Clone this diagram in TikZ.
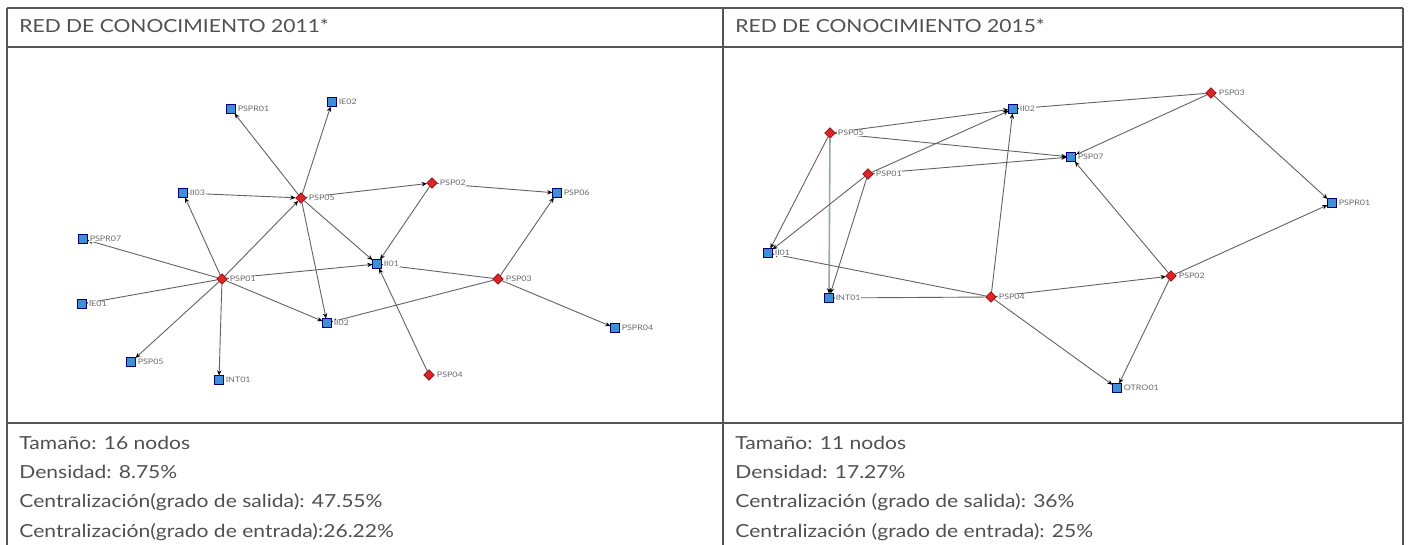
\documentclass[tikz,border=0pt]{standalone}
\usepackage{fontspec}
\setmainfont{Lato}[FakeStretch=1.17]
\usepackage{tikz}
\usepackage{xcolor}
\usetikzlibrary{arrows.meta,shapes.geometric,backgrounds}

\definecolor{rulegray}{HTML}{555555}
\definecolor{txtgray}{HTML}{505050}
\definecolor{sqblue}{HTML}{3F8FD6}
\definecolor{dmred}{HTML}{D8262A}
\definecolor{edgegray}{HTML}{626262}
\definecolor{palegray}{HTML}{93A8A8}

\begin{document}
\begin{tikzpicture}[x=0.5pt,y=-0.5pt,label distance=0.6pt]
        \tikzstyle{org}=[draw=blue!45!black,fill=sqblue,rectangle,minimum size=4.2pt,inner sep=0pt,line width=0.35pt]
        \tikzstyle{psp}=[draw=red!55!black,fill=dmred,diamond,minimum size=5.4pt,inner sep=0pt,line width=0.3pt]
        \tikzstyle{lbl}=[font=\fontsize{3.8}{4}\selectfont,text=gray!85!black,fill=white,inner sep=0.3pt]
        \tikzstyle{tie}=[draw=edgegray,line width=0.45pt,-{Stealth[length=2.6pt,width=2.2pt,black]}]
        \tikzstyle{tiepale}=[tie,draw=palegray,line width=0.8pt]
        \tikzstyle{txt}=[anchor=base west,inner sep=0pt,text=txtgray,font=\fontsize{9}{10}\selectfont]
        \useasboundingbox (0,0) rectangle (1408,545);

        % table
        \draw[rulegray,line width=1pt] (7,8) -- (1403,8);
        \draw[rulegray,line width=0.7pt] (7,47) -- (1403,47) (7,423) -- (1403,423);
        \draw[rulegray,line width=0.7pt] (7,8) -- (7,545) (723,8) -- (723,545) (1403,8) -- (1403,545);

        \node[txt] (h1) at (19,32.5) {RED DE CONOCIMIENTO 2011*};
        \node[txt] (h2) at (735,32.5) {RED DE CONOCIMIENTO 2015*};

        \node[txt] (s1) at (19,449) {Tamaño: 16 nodos};
        \node[txt] (d1) at (19,478) {Densidad: 8.75\%};
        \node[txt] (o1) at (19,507.5) {Centralización(grado de salida): 47.55\%};
        \node[txt] (i1) at (19,537) {Centralización(grado de entrada):26.22\%};

        \node[txt] (s2) at (735,449) {Tamaño: 11 nodos};
        \node[txt] (d2) at (735,478) {Densidad: 17.27\%};
        \node[txt] (o2) at (735,507.5) {Centralización (grado de salida): 36\%};
        \node[txt] (i2) at (735,537) {Centralización (grado de entrada): 25\%};

        % red 2011
        \node[psp,label={[lbl]right:PSP01}] (1) at (222,279) {};
        \node[psp,label={[lbl]right:PSP05}] (2) at (301,198) {};
        \node[psp,label={[lbl]right:PSP02}] (3) at (432,183) {};
        \node[psp,label={[lbl]right:PSP03}] (4) at (498,279) {};
        \node[psp,label={[lbl]right:PSP04}] (5) at (429,375) {};
        \node[org,label={[lbl]right:PSPR01}] (6) at (231,109) {};
        \node[org,label={[lbl]right:IE02}] (7) at (332,102) {};
        \node[org,label={[lbl]right:II03}] (8) at (183,193) {};
        \node[org,label={[lbl]right:PSPR07}] (9) at (83,239) {};
        \node[org,label={[lbl]right:IE01}] (10) at (82,304) {};
        \node[org,label={[lbl]right:PSP05}] (11) at (131,362) {};
        \node[org,label={[lbl]right:INT01}] (12) at (219,380) {};
        \node[org,label={[lbl]right:II01}] (13) at (377,264) {};
        \node[org,label={[lbl]right:II02}] (14) at (327,323) {};
        \node[org,label={[lbl]right:PSP06}] (15) at (557,193) {};
        \node[org,label={[lbl]right:PSPR04}] (16) at (615,328) {};

        % red 2015
        \node[psp,label={[lbl]right:PSP05}] (21) at (830,133) {};
        \node[psp,label={[lbl]right:PSP01}] (22) at (868,174) {};
        \node[psp,label={[lbl]right:PSP04}] (23) at (991,297) {};
        \node[psp,label={[lbl]right:PSP03}] (24) at (1211,93) {};
        \node[psp,label={[lbl]right:PSP02}] (25) at (1171,276) {};
        \node[org,label={[lbl]right:II02}] (26) at (1013,109) {};
        \node[org,label={[lbl]right:PSP07}] (27) at (1071,157) {};
        \node[org,label={[lbl]right:II01}] (28) at (768,253) {};
        \node[org,label={[lbl]right:INT01}] (29) at (829,298) {};
        \node[org,label={[lbl]right:PSPR01}] (30) at (1332,203) {};
        \node[org,label={[lbl]right:OTRO01}] (31) at (1117,388) {};

        \begin{scope}[on background layer]
        \draw[tie] (1) to (8);
        \draw[tie] (1) to (2);
        \draw[tie] (1) to (9);
        \draw[tie] (1) to (10);
        \draw[tie] (1) to (11);
        \draw[tie] (1) to (12);
        \draw[tie] (1) to (13);
        \draw[tie] (1) to (14);
        \draw[tie] (2) to (6);
        \draw[tie] (2) to (7);
        \draw[tie] (8) to (2);
        \draw[tie] (2) to (13);
        \draw[tie] (2) to (14);
        \draw[tie] (2) to (3);
        \draw[tie] (3) to (13);
        \draw[tie] (3) to (15);
        \draw[tie] (4) to (15);
        \draw[tie] (4) to (13);
        \draw[tie] (4) to (14);
        \draw[tie] (4) to (16);
        \draw[tie] (5) to (13);

        \draw[tie] (21) to (26);
        \draw[tie] (21) to (27);
        \draw[tie] (21) to (28);
        \draw[tiepale] (21) to (29);
        \draw[tie] (22) to (26);
        \draw[tie] (22) to (27);
        \draw[tie] (22) to (28);
        \draw[tie] (22) to (29);
        \draw[tie] (23) to (28);
        \draw[tie] (23) to (29);
        \draw[tie] (23) to (26);
        \draw[tie] (23) to (25);
        \draw[tie] (23) to (31);
        \draw[tie] (24) to (26);
        \draw[tie] (24) to (27);
        \draw[tie] (24) to (30);
        \draw[tie] (25) to (27);
        \draw[tie] (25) to (30);
        \draw[tie] (25) to (31);
        \end{scope}
    \end{tikzpicture}
\end{document}
